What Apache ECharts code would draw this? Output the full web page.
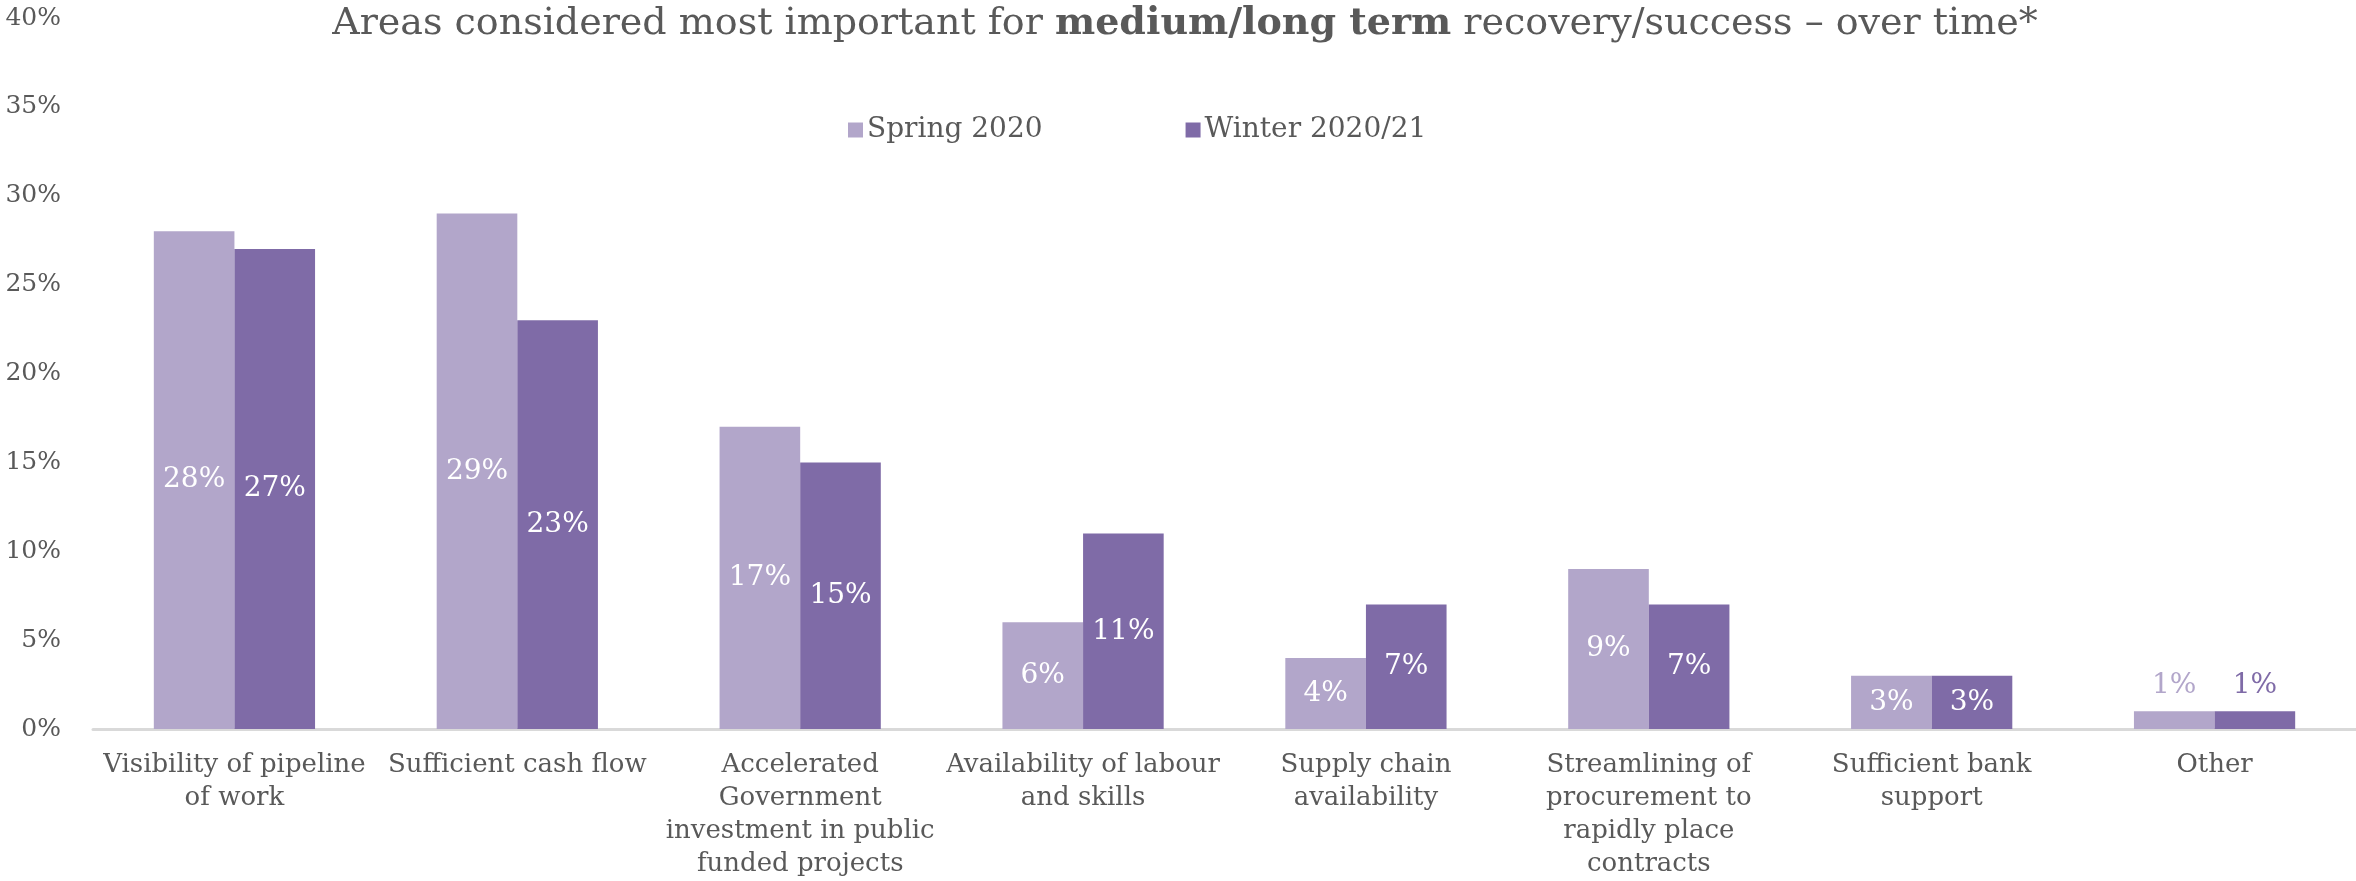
<!DOCTYPE html>
<html>
<head>
<meta charset="utf-8">
<title>Areas considered most important for medium/long term recovery/success – over time*</title>
<script src="https://cdn.jsdelivr.net/npm/echarts@6/dist/echarts.min.js"></script>
<style>
  html, body { margin: 0; padding: 0; background: #ffffff; }
  #chart { width: 2356px; height: 881px; }
</style>
</head>
<body>
<div id="chart"></div>
<script>
// Response areas (x-axis), wrapped onto lines
const categories = [
  'Visibility of pipeline\nof work',
  'Sufficient cash flow',
  'Accelerated\nGovernment\ninvestment in public\nfunded projects',
  'Availability of labour\nand skills',
  'Supply chain\navailability',
  'Streamlining of\nprocurement to\nrapidly place\ncontracts',
  'Sufficient bank\nsupport',
  'Other'
];

// Share of respondents (%)
const spring2020 = [28, 29, 17, 6, 4, 9, 3, 1];
const winter2021 = [27, 23, 15, 11, 7, 7, 3, 1];

const seriesNames = ['Spring 2020', 'Winter 2020/21'];
const yTicks = { min: 0, max: 40, interval: 5 };

const FONT = 'DejaVu Serif';
const TEXT = '#595959';
const COLORS = ['#B2A6CA', '#7F6BA7'];

// Small values get their label above the bar, in the bar's colour
function toData(values, color) {
  return values.map(v => v <= 1
    ? { value: v, label: { position: 'top', distance: 12, color: color } }
    : v);
}

const valueLabel = {
  show: true,
  position: 'inside',
  formatter: '{c}%',
  fontFamily: FONT,
  fontSize: 28,
  color: '#ffffff'
};

const chart = echarts.init(document.getElementById('chart'), null, { renderer: 'canvas' });

chart.setOption({
  backgroundColor: '#ffffff',
  animation: false,
  textStyle: { fontFamily: FONT, color: TEXT },
  title: {
    text: 'Areas considered most important for {b|medium/long term} recovery/success – over time*',
    left: 1180,
    textAlign: 'center',
    top: 0,
    textStyle: {
      fontFamily: FONT,
      fontWeight: 'normal',
      fontSize: 38,
      color: TEXT,
      rich: {
        b: { fontFamily: FONT, fontWeight: 'bold', fontSize: 38, color: TEXT }
      }
    }
  },
  legend: {
    data: seriesNames,
    left: 843,
    top: 111,
    itemWidth: 15,
    itemHeight: 15,
    itemGap: 143,
    icon: 'rect',
    textStyle: { fontFamily: FONT, fontSize: 28, color: TEXT, padding: [0, 0, 0, -1] }
  },
  grid: { left: 93, right: 0, top: 18, bottom: 151, containLabel: false },
  xAxis: {
    type: 'category',
    data: categories,
    axisLine: { show: true, lineStyle: { color: '#D9D9D9', width: 3 } },
    axisTick: { show: false },
    axisLabel: {
      interval: 0,
      margin: 20,
      fontFamily: FONT,
      fontSize: 26,
      lineHeight: 33,
      color: TEXT,
      align: 'center'
    }
  },
  yAxis: {
    type: 'value',
    min: yTicks.min,
    max: yTicks.max,
    interval: yTicks.interval,
    axisLine: { show: false },
    axisTick: { show: false },
    splitLine: { show: false },
    axisLabel: {
      margin: 32,
      fontFamily: FONT,
      fontSize: 25,
      color: TEXT,
      formatter: v => v + '%'
    }
  },
  series: [
    {
      name: seriesNames[0],
      type: 'bar',
      data: toData(spring2020, COLORS[0]),
      itemStyle: { color: COLORS[0] },
      barGap: '0%',
      barCategoryGap: '43%',
      label: valueLabel
    },
    {
      name: seriesNames[1],
      type: 'bar',
      data: toData(winter2021, COLORS[1]),
      itemStyle: { color: COLORS[1] },
      barGap: '0%',
      barCategoryGap: '43%',
      label: valueLabel
    }
  ]
});
</script>
</body>
</html>
